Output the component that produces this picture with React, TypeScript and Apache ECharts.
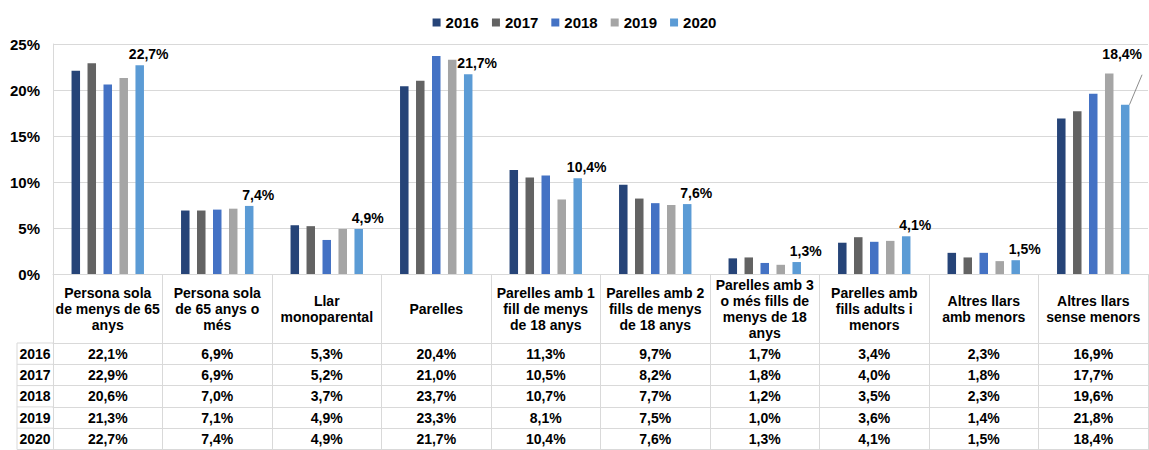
import React, { useEffect, useRef } from "react";
import * as echarts from "echarts";

const years = ["2016", "2017", "2018", "2019", "2020"];
const categories = [
  "Persona sola\nde menys de 65\nanys",
  "Persona sola\nde 65 anys o\nmés",
  "Llar\nmonoparental",
  "Parelles",
  "Parelles amb 1\nfill de menys\nde 18 anys",
  "Parelles amb 2\nfills de menys\nde 18 anys",
  "Parelles amb 3\no més fills de\nmenys de 18\nanys",
  "Parelles amb\nfills adults i\nmenors",
  "Altres llars\namb menors",
  "Altres llars\nsense menors",
];
const v2016 = [22.1, 6.9, 5.3, 20.4, 11.3, 9.7, 1.7, 3.4, 2.3, 16.9];
const v2017 = [22.9, 6.9, 5.2, 21.0, 10.5, 8.2, 1.8, 4.0, 1.8, 17.7];
const v2018 = [20.6, 7.0, 3.7, 23.7, 10.7, 7.7, 1.2, 3.5, 2.3, 19.6];
const v2019 = [21.3, 7.1, 4.9, 23.3, 8.1, 7.5, 1.0, 3.6, 1.4, 21.8];
const v2020 = [22.7, 7.4, 4.9, 21.7, 10.4, 7.6, 1.3, 4.1, 1.5, 18.4];
const seriesValues = [v2016, v2017, v2018, v2019, v2020];
const yMin = 0;
const yMax = 25;
const yStep = 5;

const colors = ["#264478", "#636363", "#4472C4", "#A5A5A5", "#5B9BD5"];
const FONT = "'Liberation Sans', Arial, sans-serif";
const GRID_LEFT = 53;
const GRID_TOP = 44;
const AXIS_Y = 274;
const HEADER_BOTTOM = 343;
const ROW_H = 21.3;
const TABLE_LEFT = 17;
const LINE_COLOR = "#d9d9d9";

const fmt = (v: number) => v.toFixed(1).replace(".", ",") + "%";

export default function App() {
  const ref = useRef<HTMLDivElement>(null);
  useEffect(() => {
    if (!ref.current) return;
    const chart = echarts.init(ref.current, undefined, { renderer: "svg" });

    const rowAxes = years.map((y, r) => ({
      type: "category",
      gridIndex: 0,
      position: "bottom",
      offset: HEADER_BOTTOM - AXIS_Y + ROW_H * r,
      data: seriesValues[r].map(fmt),
      axisLine: { show: true, lineStyle: { color: LINE_COLOR, width: 1 } },
      axisTick: { show: false },
      axisLabel: {
        interval: 0,
        margin: ROW_H / 2,
        verticalAlign: "middle",
        fontFamily: FONT,
        fontWeight: "bold",
        fontSize: 14,
        color: "#000",
      },
      splitLine: { show: false },
    }));

    const bottomAxis = {
      type: "category",
      gridIndex: 0,
      position: "bottom",
      offset: HEADER_BOTTOM - AXIS_Y + ROW_H * years.length,
      data: categories,
      axisLine: { show: true, lineStyle: { color: LINE_COLOR, width: 1 } },
      axisTick: { show: false },
      axisLabel: { show: false },
      splitLine: { show: false },
    };

    const graphics: any[] = [];
    for (let r = 0; r <= years.length; r++) {
      const y = HEADER_BOTTOM + ROW_H * r;
      graphics.push({
        type: "line",
        shape: { x1: TABLE_LEFT, y1: y, x2: GRID_LEFT, y2: y },
        style: { stroke: LINE_COLOR, lineWidth: 1 },
      });
    }
    graphics.push({
      type: "line",
      shape: {
        x1: TABLE_LEFT,
        y1: HEADER_BOTTOM,
        x2: TABLE_LEFT,
        y2: HEADER_BOTTOM + ROW_H * years.length,
      },
      style: { stroke: LINE_COLOR, lineWidth: 1 },
    });
    years.forEach((y, r) => {
      graphics.push({
        type: "text",
        x: (TABLE_LEFT + GRID_LEFT) / 2,
        y: HEADER_BOTTOM + ROW_H * r + ROW_H / 2,
        style: {
          text: y,
          fontFamily: FONT,
          fontWeight: "bold",
          fontSize: 14,
          fill: "#000",
          align: "center",
          verticalAlign: "middle",
        },
      });
    });

    const series = years.map((y, k) => {
      const isLast = k === years.length - 1;
      return {
        name: y,
        type: "bar",
        xAxisIndex: 0,
        barWidth: 8.5,
        barGap: "88%",
        itemStyle: { color: colors[k] },
        data: seriesValues[k].map((v, i) => {
          if (isLast && i === 9) {
            return {
              value: v,
              label: { offset: [-3, -40] },
              labelLine: { show: true, lineStyle: { color: "#8c8c8c", width: 1 } },
            };
          }
          return v;
        }),
        label: isLast
          ? {
              show: true,
              position: "top",
              distance: 4,
              offset: [9, 0],
              formatter: (p: any) => fmt(p.value),
              fontFamily: FONT,
              fontWeight: "bold",
              fontSize: 14,
              color: "#000",
            }
          : { show: false },
      };
    });

    chart.setOption({
      animation: false,
      color: colors,
      legend: {
        data: years,
        top: 10,
        left: "center",
        icon: "rect",
        itemWidth: 8,
        itemHeight: 8,
        itemGap: 13,
        textStyle: {
          fontFamily: FONT,
          fontWeight: "bold",
          fontSize: 15,
          color: "#000",
        },
      },
      grid: {
        left: GRID_LEFT,
        right: 1,
        top: GRID_TOP,
        bottom: 450 - AXIS_Y,
        containLabel: false,
        outerBoundsMode: "none",
      },
      xAxis: [
        {
          type: "category",
          gridIndex: 0,
          position: "bottom",
          data: categories,
          axisLine: { show: true, lineStyle: { color: LINE_COLOR, width: 1 } },
          axisTick: {
            show: true,
            interval: 0,
            length: 450 - AXIS_Y,
            lineStyle: { color: LINE_COLOR, width: 1 },
          },
          axisLabel: {
            interval: 0,
            margin: (HEADER_BOTTOM - AXIS_Y) / 2,
            verticalAlign: "middle",
            lineHeight: 16,
            fontFamily: FONT,
            fontWeight: "bold",
            fontSize: 14,
            color: "#000",
          },
          splitLine: { show: false },
        },
        ...rowAxes,
        bottomAxis,
      ],
      yAxis: {
        type: "value",
        min: yMin,
        max: yMax,
        interval: yStep,
        axisLine: { show: true, lineStyle: { color: LINE_COLOR, width: 1 } },
        axisTick: { show: false },
        splitLine: { show: true, lineStyle: { color: LINE_COLOR, width: 1 } },
        axisLabel: {
          formatter: (v: number) => `${v}%`,
          margin: 13,
          fontFamily: FONT,
          fontWeight: "bold",
          fontSize: 15,
          color: "#000",
        },
      },
      graphic: graphics,
      series,
    } as any);

    return () => chart.dispose();
  }, []);

  return (
    <div
      ref={ref}
      style={{ position: "fixed", left: 0, top: 0, width: 1149, height: 450, background: "#fff" }}
    />
  );
}
